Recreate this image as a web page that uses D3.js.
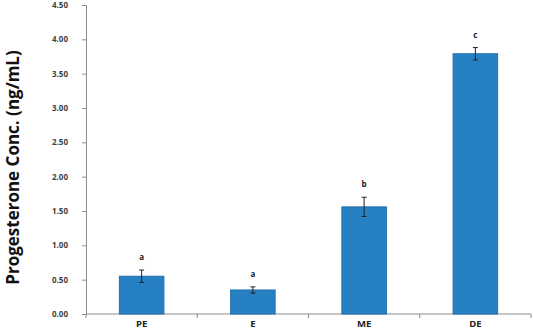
<!DOCTYPE html>
<html>
<head>
<meta charset="utf-8">
<script src="https://cdn.jsdelivr.net/npm/d3@7"></script>
<style>
  body { margin: 0; background: #fff; }
  svg text { font-family: "Open Sans", "Liberation Sans", sans-serif; font-weight: bold; }
</style>
</head>
<body>
<div id="chart"></div>
<script>
// chart data
const stages = ["PE", "E", "ME", "DE"];
const means = [0.55, 0.35, 1.56, 3.79];
const errors = [0.09, 0.045, 0.14, 0.09];
const letters = ["a", "a", "b", "c"];
const yTicks = [0, 0.5, 1, 1.5, 2, 2.5, 3, 3.5, 4, 4.5];

let width = 533, height = 333;
let margin = {top: 5, right: 2, bottom: 19, left: 86};

let svg = d3.select("#chart").append("svg")
    .attr("width", width)
    .attr("height", height);

let xScale = d3.scaleBand()
    .domain(stages)
    .range([margin.left, width - margin.right])
    .paddingInner(0.6)
    .paddingOuter(0.3);

let yScale = d3.scaleLinear()
    .domain([0, 4.5])
    .range([height - margin.bottom, margin.top]);

// y axis
let yAxis = svg.append("g")
    .attr("transform", "translate(" + margin.left + ",0)")
    .call(d3.axisLeft(yScale).tickValues(yTicks).tickFormat(d3.format(".2f")).tickSizeOuter(0).tickSize(4).tickPadding(14));
yAxis.select(".domain").attr("stroke", "#8c8c8c");
yAxis.selectAll(".tick line").attr("stroke", "#8c8c8c");
yAxis.selectAll(".tick text").attr("fill", "#404040").attr("font-size", 8);

// x axis - ticks sit on the category boundaries
let step = xScale.step();
let bounds = d3.range(stages.length + 1).map(i => margin.left + i * (width - margin.right - margin.left) / stages.length);
let xAxis = svg.append("g")
    .attr("transform", "translate(0," + (height - margin.bottom) + ")");
xAxis.append("line")
    .attr("x1", margin.left).attr("x2", width - margin.right)
    .attr("stroke", "#8c8c8c");
xAxis.selectAll(".bnd").data(bounds).enter().append("line")
    .attr("class", "bnd")
    .attr("x1", d => d).attr("x2", d => d)
    .attr("y1", 0).attr("y2", 4)
    .attr("stroke", "#8c8c8c");
xAxis.selectAll(".lab").data(stages).enter().append("text")
    .attr("class", "lab")
    .attr("x", d => xScale(d) + xScale.bandwidth() / 2)
    .attr("y", 13)
    .attr("text-anchor", "middle")
    .attr("font-size", 9.5)
    .attr("fill", "#222")
    .text(d => d);

// bars
svg.selectAll(".bar").data(stages).enter().append("rect")
    .attr("class", "bar")
    .attr("x", d => xScale(d))
    .attr("y", (d, i) => yScale(means[i]))
    .attr("width", xScale.bandwidth())
    .attr("height", (d, i) => yScale(0) - yScale(means[i]))
    .attr("fill", "#2680c2")
    .attr("stroke", "#1f6fae")
    .attr("stroke-width", 1);

// error bars
let eb = svg.selectAll(".err").data(stages).enter().append("g").attr("class", "err");
let cx = d => xScale(d) + xScale.bandwidth() / 2;
eb.append("line")
    .attr("x1", cx).attr("x2", cx)
    .attr("y1", (d, i) => yScale(means[i] + errors[i]))
    .attr("y2", (d, i) => yScale(means[i] - errors[i]));
eb.append("line")
    .attr("x1", d => cx(d) - 2.5).attr("x2", d => cx(d) + 2.5)
    .attr("y1", (d, i) => yScale(means[i] + errors[i]))
    .attr("y2", (d, i) => yScale(means[i] + errors[i]));
eb.append("line")
    .attr("x1", d => cx(d) - 2.5).attr("x2", d => cx(d) + 2.5)
    .attr("y1", (d, i) => yScale(means[i] - errors[i]))
    .attr("y2", (d, i) => yScale(means[i] - errors[i]));
eb.selectAll("line").attr("stroke", "#222").attr("stroke-width", 1);

// significance letters
svg.selectAll(".letter").data(stages).enter().append("text")
    .attr("class", "letter")
    .attr("x", cx)
    .attr("y", (d, i) => yScale(means[i] + errors[i]) - 10)
    .attr("text-anchor", "middle")
    .attr("font-size", 8)
    .attr("fill", "#222")
    .text((d, i) => letters[i]);

// y title
svg.append("text")
    .attr("transform", "translate(19," + ((margin.top + height - margin.bottom) / 2 + 8) + ") rotate(-90)")
    .attr("text-anchor", "middle")
    .attr("font-size", 17)
    .attr("fill", "#111")
    .text("Progesterone Conc. (ng/mL)");
</script>
</body>
</html>
